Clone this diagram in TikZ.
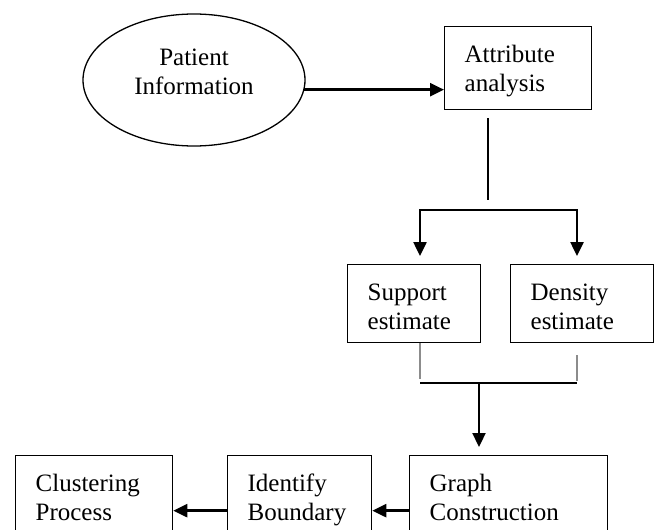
\documentclass[tikz,border=0pt]{standalone}
\usepackage{fontspec}
\setmainfont{Liberation Serif}
\usetikzlibrary{arrows.meta,shapes.geometric}
\begin{document}
\begin{tikzpicture}[x=1pt,y=-1pt,
  txt/.style={font=\fontsize{25}{29}\selectfont},
  box/.style={draw, line width=1.3pt, txt, align=left, inner xsep=20pt, inner ysep=0pt,
    anchor=north west, text height=36pt},
  arr/.style={line width=2.5pt, -{Triangle[length=14pt,width=13pt]}},
  thinline/.style={line width=1.2pt},
  branch/.style={line width=2pt, line cap=rect},
  gline/.style={line width=1.3pt, draw=black!45},
  joinline/.style={line width=1.6pt}
]
\useasboundingbox (0,0) rectangle (656,530);
\clip (0,0) rectangle (656,530);
% nodes
\node[draw, ellipse, line width=1.3pt, minimum width=222pt, minimum height=132pt, txt,
  align=center, text width=140pt, text height=17pt, text depth=47pt] (pi) at (194,80) {Patient\\Information};
\node[box, text width=107pt, text depth=47pt] (attr) at (444,26) {Attribute\\analysis};
\node[box, text width=93pt, text depth=42pt] (sup) at (347,264) {Support\\estimate};
\node[box, text width=103pt, text depth=42pt] (dens) at (510,264) {Density\\estimate};
\node[box, text width=117pt, text depth=74pt] (clus) at (15,455) {Clustering\\Process};
\node[box, text width=104pt, text depth=74pt] (ident) at (227,455) {Identify\\Boundary};
\node[box, text width=158pt, text depth=74pt] (graph) at (409,455) {Graph\\Construction};
% coordinates
\coordinate (a1) at (488,118);
\coordinate (a2) at (488,200);
\coordinate (bl) at (420,210);
\coordinate (br) at (577,210);
\coordinate (gle) at (420,379);
\coordinate (grs) at (577,355);
\coordinate (gre) at (577,381);
\coordinate (jl) at (420,383);
\coordinate (jr) at (577,383);
\coordinate (jm) at (479,383);
% connectors
\draw[arr] (pi.-5) -- (pi.-5 -| attr.west);
\draw[thinline] (a1) -- (a2);
\draw[branch] (bl) -- (br);
\draw[arr, shorten >=8pt] (bl) -- (bl |- sup.north);
\draw[arr, shorten >=8pt] (br) -- (br |- dens.north);
\draw[gline] (gle |- sup.south) -- (gle);
\draw[gline] (grs) -- (gre);
\draw[joinline] (jl) -- (jr);
\draw[arr, line width=2.3pt, shorten >=8pt] (jm) -- (jm |- graph.north);
\draw[arr] (graph.west) -- (ident.east);
\draw[arr] (ident.west) -- (clus.east);
\end{tikzpicture}
\end{document}
